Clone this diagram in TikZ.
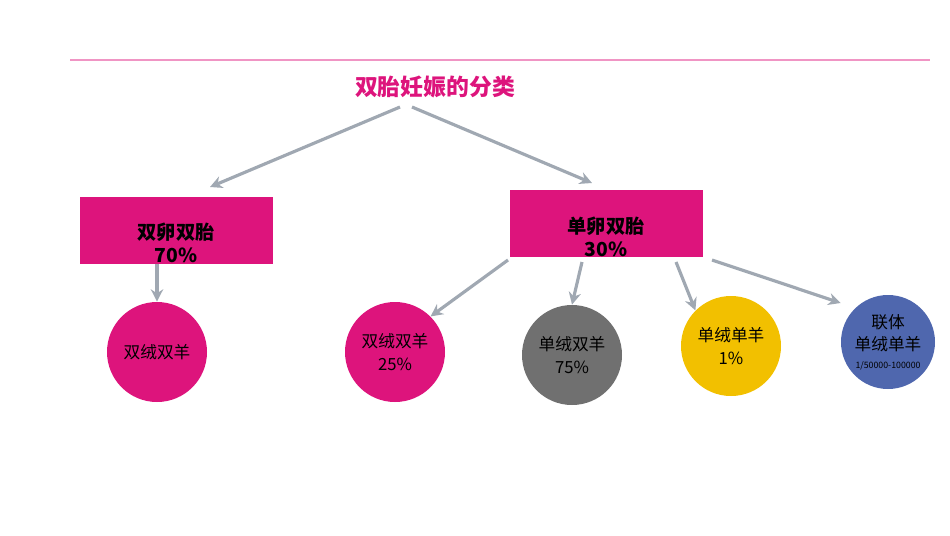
\documentclass[tikz,border=0pt]{standalone}
\usepackage{fontspec}
\setmainfont{Noto Sans CJK SC}
\definecolor{twinmagenta}{RGB}{221,20,124}
\definecolor{twingrey}{RGB}{112,112,112}
\definecolor{twinyellow}{RGB}{242,192,0}
\definecolor{twinblue}{RGB}{79,103,174}
\definecolor{arrowgrey}{RGB}{160,168,178}
\usetikzlibrary{arrows.meta,positioning}

\tikzset{
  box/.style={fill=twinmagenta, minimum width=193*0.02cm, minimum height=67*0.02cm, inner sep=0pt},
  circ/.style={circle, minimum size=100*0.02cm, inner sep=0pt, align=center, font=\fontsize{9.5}{13}\selectfont},
  link/.style={draw=arrowgrey, line width=1.8pt, -{Stealth[length=7pt,width=7pt]}}
}

\begin{document}
\begin{tikzpicture}[x=0.02cm, y=-0.02cm]
    \useasboundingbox (0,0) rectangle (950,535);

    % Header line and title
    \draw[twinmagenta!45, line width=0.6pt] (70,60) -- (930,60);
    \node[font=\bfseries\fontsize{13}{15}\selectfont, text=twinmagenta] (title) at (435,87) {双胎妊娠的分类};

    % Boxes
    \node[box] (dz) at (176,230) {};
    \node[font=\bfseries\fontsize{11}{13}\selectfont, align=center] (dzt) at (176,243) {双卵双胎\\70\%};
    \node[box] (mz) at (606,223) {};
    \node[font=\bfseries\fontsize{11}{13}\selectfont, align=center] (mzt) at (606,237) {单卵双胎\\30\%};

    % Circles
    \node[circ, fill=twinmagenta] (c1) at (157,352) {双绒双羊};
    \node[circ, fill=twinmagenta] (c2) at (395,352) {双绒双羊\\25\%};
    \node[circ, fill=twingrey] (c3) at (572,355) {单绒双羊\\75\%};
    \node[circ, fill=twinyellow] (c4) at (731,346) {单绒单羊\\1\%};
    \node[circ, fill=twinblue, minimum size=94*0.02cm] (c5) at (888,342) {联体\\单绒单羊\\[-3pt]{\fontsize{5}{6}\selectfont 1/50000-100000}};

    % Connectors
    \coordinate (t1) at (400,107);
    \coordinate (t2) at (412,107);
    \draw[link] (t1) -- (210,187);
    \draw[link] (t2) -- (592,183);
    \draw[link] (157,264) -- (c1.north);
    \draw[link] (508,260) -- (c2.north east);
    \draw[link] (582,262) -- (c3.north);
    \draw[link] (676,262) -- (c4.north west);
    \draw[link] (712,260) -- (c5.west |- 0,303);
\end{tikzpicture}
\end{document}
